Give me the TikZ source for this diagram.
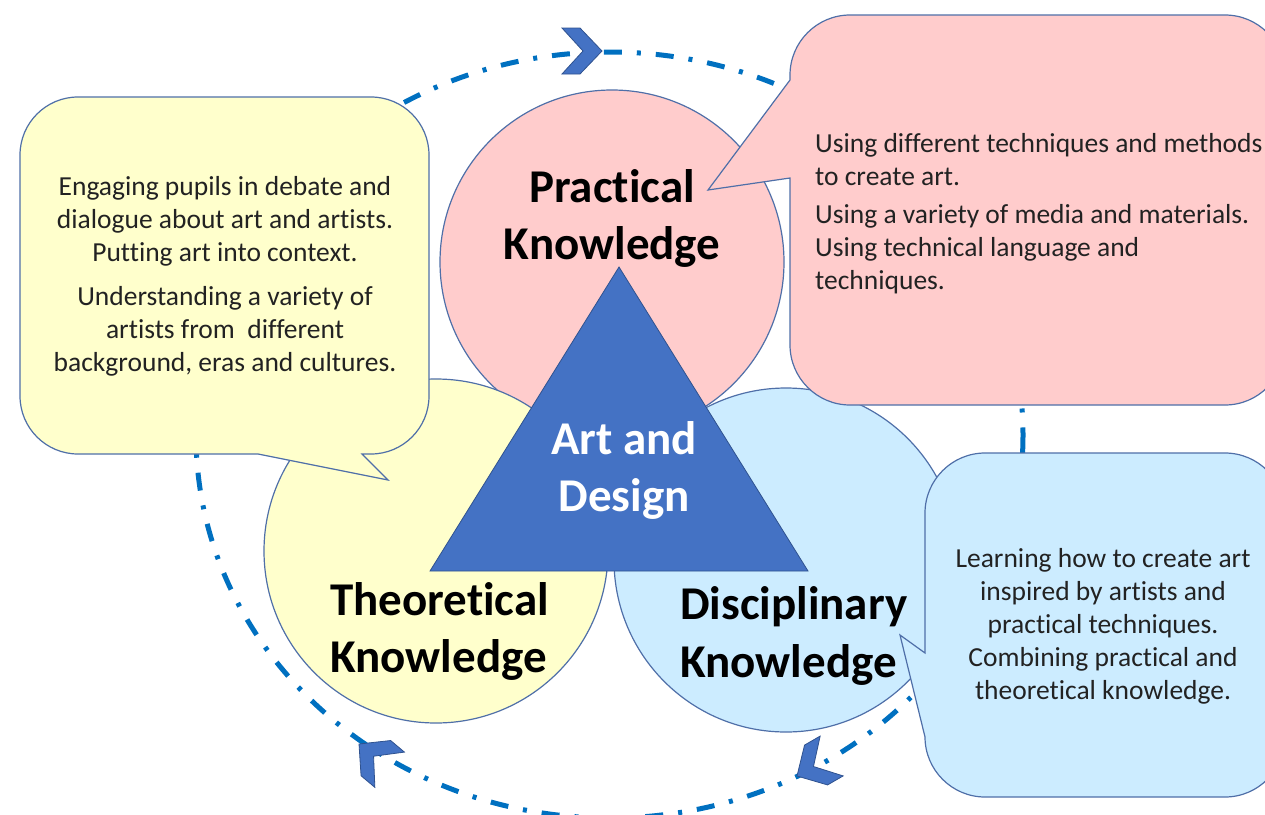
\documentclass[tikz,border=0pt]{standalone}
\usepackage{fontspec}
\setmainfont{Carlito}[Ligatures={NoCommon}]
\definecolor{pinkfill}{HTML}{FFCCCC}
\definecolor{yellowfill}{HTML}{FFFFCC}
\definecolor{bluefill}{HTML}{CCECFF}
\definecolor{shapeline}{HTML}{4F6FA8}
\definecolor{coreblue}{HTML}{4472C4}
\definecolor{coreline}{HTML}{2F528F}
\definecolor{cycleblue}{HTML}{0070C0}
\definecolor{bodyink}{HTML}{222222}
\begin{document}
\begin{tikzpicture}[x=1pt,y=-1pt,
  outline/.style={draw=shapeline, line width=1.2pt},
  bubble/.style={circle, outline, minimum size=344pt, inner sep=0pt},
  bigword/.style={font=\fontsize{47}{57}\selectfont\bfseries, inner sep=0pt, text=black},
  bodytext/.style={font=\fontsize{27.5}{33}\selectfont, inner sep=0pt, text=bodyink},
  cycleline/.style={draw=cycleblue, line width=5pt, dash pattern=on 18pt off 15pt on 4pt off 15pt},
  chevron/.pic={\filldraw[fill=coreblue, draw=coreline, line width=0.8pt]
      (0,0) -- (-22,-23) -- (-40,-23) -- (-19,0) -- (-40,23) -- (-22,23) -- cycle;}
]
\useasboundingbox (0,0) rectangle (1265,814);
\clip (0,0) rectangle (1265,814);

% dash-dot cycle behind everything
\draw[cycleline] (609.5,435) ellipse [x radius=413.5, y radius=383];

% the three knowledge circles
\node[bubble, fill=pinkfill] (practical) at (612,262) {};
\node[bubble, fill=yellowfill] (theoretical) at (436,551) {};
\node[bubble, fill=bluefill] (disciplinary) at (786,560) {};

% central triangle
\coordinate (apex) at (619,267);
\coordinate (baseL) at (430,571);
\coordinate (baseR) at (808,571);
\filldraw[fill=coreblue, draw=coreline, line width=0.8pt] (apex) -- (baseR) -- (baseL) -- cycle;

% yellow speech bubble (tail at the bottom)
\filldraw[fill=yellowfill, outline]
  (78,97) -- (371,97) .. controls (403,97) and (429,123) .. (429,155)
  -- (429,396) .. controls (429,428) and (403,454) .. (371,454)
  -- (362,454) -- (388,480) -- (258,454)
  -- (78,454) .. controls (46,454) and (20,428) .. (20,396)
  -- (20,155) .. controls (20,123) and (46,97) .. (78,97) -- cycle;

% pink speech bubble (tail to the left)
\filldraw[fill=pinkfill, outline]
  (850,15) -- (1225,15) .. controls (1258,15) and (1285,42) .. (1285,75)
  -- (1285,345) .. controls (1285,378) and (1258,405) .. (1225,405)
  -- (850,405) .. controls (817,405) and (790,378) .. (790,345)
  -- (790,178) -- (708,190) -- (790,80)
  -- (790,75) .. controls (790,42) and (817,15) .. (850,15) -- cycle;

% blue speech bubble (tail to the left)
\filldraw[fill=bluefill, outline]
  (985,453) -- (1225,453) .. controls (1258,453) and (1285,480) .. (1285,513)
  -- (1285,737) .. controls (1285,770) and (1258,797) .. (1225,797)
  -- (985,797) .. controls (952,797) and (925,770) .. (925,737)
  -- (900,635) -- (925,653)
  -- (925,513) .. controls (925,480) and (952,453) .. (985,453) -- cycle;

% direction markers on the cycle
\pic at (602,51) {chevron};
\pic[rotate=210] at (797,776) {chevron};
\pic[rotate=140] at (359,744) {chevron};

% circle titles
\node[bigword, anchor=base] (pracA) at (612,202) {Practical};
\node[bigword, anchor=base] (pracB) at (612,259) {Knowledge};
\node[bigword, anchor=base west] (theoA) at (330,615) {Theoretical};
\node[bigword, anchor=base west] (theoB) at (330,672) {Knowledge};
\node[bigword, anchor=base west] (discA) at (680,619) {Disciplinary};
\node[bigword, anchor=base west] (discB) at (680,677) {Knowledge};
\node[bigword, anchor=base, text=white] (artA) at (624,454) {Art and};
\node[bigword, anchor=base, text=white] (artB) at (624,511) {Design};

% bubble texts
\node[bodytext, align=center, anchor=north] (ytext) at (225,171.9)
  {\strut Engaging pupils in debate and\\dialogue about art and artists.\\Putting art into context.\\[11pt]Understanding a variety of\\artists from~ different\\background, eras and cultures.};
\node[bodytext, align=left, anchor=north west] (ptext) at (815,128.9)
  {\strut Using different techniques and methods\\to create art.\\[5pt]Using a variety of media and materials.\\Using technical language and\\techniques.};
\node[bodytext, align=center, anchor=north] (btext) at (1103,543.9)
  {\strut Learning how to create art\\inspired by artists and\\practical techniques.\\Combining practical and\\theoretical knowledge.};
\end{tikzpicture}
\end{document}
